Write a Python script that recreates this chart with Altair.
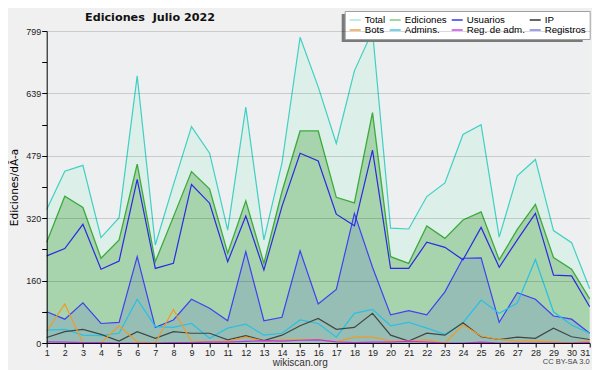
import altair as alt
import pandas as pd

days = list(range(1, 32))

total = [342, 440, 455, 270, 321, 684, 251, 405, 554, 486, 289, 604, 264, 461, 783, 656,
         511, 697, 799, 294, 292, 375, 410, 534, 559, 271, 428, 470, 288, 257, 139]
ediciones = [258, 376, 347, 217, 264, 458, 208, 323, 439, 394, 230, 364, 204, 388, 543, 543,
             373, 359, 590, 221, 204, 300, 268, 315, 336, 213, 291, 355, 219, 189, 113]
usuarios = [223, 242, 304, 189, 210, 419, 191, 204, 406, 358, 208, 325, 187, 350, 486, 466,
            330, 300, 494, 191, 191, 258, 245, 213, 296, 194, 264, 332, 174, 172, 93]
registros = [80, 61, 103, 50, 53, 221, 40, 59, 112, 89, 57, 234, 57, 66, 236, 100,
             137, 332, 194, 72, 83, 72, 131, 217, 218, 53, 129, 112, 69, 61, 25]
admins = [33, 35, 20, 19, 25, 112, 42, 40, 50, 12, 38, 48, 20, 25, 59, 50,
          15, 76, 86, 44, 53, 38, 22, 52, 110, 76, 102, 214, 80, 46, 25]
ip = [14, 29, 35, 22, 5, 29, 12, 29, 25, 25, 8, 19, 6, 20, 44, 63,
      35, 40, 76, 20, 5, 25, 20, 52, 16, 9, 15, 12, 38, 16, 9]
bots = [30, 100, 0, 0, 44, 3, 0, 86, 3, 3, 5, 15, 5, 8, 9, 9,
        3, 15, 15, 5, 5, 8, 0, 46, 18, 9, 5, 5, 3, 0, 5]
reg_adm = [3, 2, 1, 1, 0, 0, 0, 1, 1, 2, 2, 4, 6, 5, 7, 8,
           3, 1, 2, 2, 4, 2, 0, 0, 2, 0, 0, 0, 0, 0, 1]

series_names = ["Total", "Ediciones", "Usuarios", "IP",
                "Bots", "Admins.", "Reg. de adm.", "Registros"]
legend_colors = ["#a8e6dd", "#80cc80", "#3838e6", "#333333",
                 "#f0a040", "#40c8e0", "#cc44ee", "#7f7fe8"]
y_ticks = [round(k * 79.9, 1) for k in range(11)]

title_text = "Ediciones\u00a0 Julio 2022"
credit_text = "CC BY-SA 3.0"

FONT = "Liberation Sans, Arial, sans-serif"
BOLD_FONT = "DejaVu Sans, sans-serif"

series_values = {
    "Total": total, "Ediciones": ediciones, "Usuarios": usuarios, "IP": ip,
    "Bots": bots, "Admins.": admins, "Reg. de adm.": reg_adm, "Registros": registros,
}
rows = []
for name in series_names:
    for d, v in zip(days, series_values[name]):
        rows.append({"day": d, "serie": name, "value": v})
df = pd.DataFrame(rows)

x_enc = alt.X(
    "day:Q",
    scale=alt.Scale(domain=[1, 31], nice=False, zero=False),
    axis=alt.Axis(
        values=days, format="d", title="wikiscan.org", grid=False,
        domainColor="#000000", tickColor="#000000", tickSize=4,
        labelFont=FONT, labelFontSize=9, labelColor="#222222", labelPadding=1,
        labelAlign={"condition": {"test": "datum.value == 31", "value": "right"},
                    "value": "center"},
        titleFont=FONT, titleFontSize=10, titleFontWeight="normal", titleColor="#333333",
        titleX=253, titleY=19, titleBaseline="middle", titleAlign="center",
        labelFlush=False, labelOverlap=False, zindex=1,
    ),
)
y_enc = alt.Y(
    "value:Q",
    scale=alt.Scale(domain=[0, 799], nice=False),
    axis=alt.Axis(
        values=y_ticks,
        labelExpr="round(datum.value / 79.9) % 2 == 0 ? format(datum.value, '.0f') : ''",
        title="Ediciones/dÃ-a", grid=True, gridColor="#000000",
        gridOpacity={"condition": {"test": "round(datum.value / 79.9) % 2 == 0", "value": 0.15},
                     "value": 0},
        domainColor="#000000", tickColor="#000000", tickSize=5,
        labelFont=FONT, labelFontSize=9, labelColor="#222222", labelPadding=1,
        titleFont="DejaVu Sans, sans-serif", titleFontSize=10.5, titleFontWeight="normal",
        titleColor="#000000", titleX=-32, titleY=156, titleAngle=270,
        titleBaseline="middle", titleAlign="center", labelOverlap=False, zindex=1,
    ),
)

base = alt.Chart(df)


def sub(name):
    return base.transform_filter(alt.datum.serie == name)


total_area = sub("Total").mark_area(
    color="#d6efe6", line={"color": "#3fd0c4", "strokeWidth": 1.2}
).encode(x=x_enc, y=y_enc)
edic_area = sub("Ediciones").mark_area(
    color="#90c992", line={"color": "#3caa3c", "strokeWidth": 1.3}
).encode(x=x_enc, y=y_enc)
reg_area = sub("Registros").mark_area(
    color="#3c3cf0", opacity=0.14
).encode(x=x_enc, y=y_enc)
reg_line = sub("Registros").mark_line(color="#4040f0", strokeWidth=1.2).encode(x=x_enc, y=y_enc)
usu_line = sub("Usuarios").mark_line(color="#2a2ae0", strokeWidth=1.2).encode(x=x_enc, y=y_enc)
adm_line = sub("Admins.").mark_line(color="#28c0e4", strokeWidth=1.2).encode(x=x_enc, y=y_enc)
ip_line = sub("IP").mark_line(color="#404646", strokeWidth=1.2).encode(x=x_enc, y=y_enc)
bots_line = sub("Bots").mark_line(color="#f09a28", strokeWidth=1.2).encode(x=x_enc, y=y_enc)
regadm_line = sub("Reg. de adm.").mark_line(color="#c030e8", strokeWidth=1.2).encode(x=x_enc, y=y_enc)

legend_layer = base.mark_line(opacity=0).encode(
    x=x_enc, y=y_enc,
    color=alt.Color(
        "serie:N",
        scale=alt.Scale(domain=series_names, range=legend_colors),
        legend=alt.Legend(
            title=None, orient="none", legendX=298, legendY=-20, columns=4,
            direction="horizontal", symbolType="stroke", symbolSize=121,
            symbolStrokeWidth=1.5, symbolOpacity=1, labelFont=FONT, labelFontSize=9.7,
            labelColor="#000000", fillColor="#ffffff", strokeColor="#a0a0a0",
            padding=4, rowPadding=0, columnPadding=3, clipHeight=10, labelOffset=3,
        ),
    ),
)

shadow = alt.Chart(pd.DataFrame({"k": [0]})).mark_rect(color="#7a7a7a").encode(
    x=alt.value(295), x2=alt.value(536), y=alt.value(-17), y2=alt.value(11)
)

title_layer = alt.Chart(pd.DataFrame({"t": [title_text]})).mark_text(
    align="left", baseline="alphabetic", font=BOLD_FONT, fontSize=11.2,
    fontWeight="bold", color="#111111"
).encode(x=alt.value(38.3), y=alt.value(-10.3), text="t:N")

credit = alt.Chart(pd.DataFrame({"t": [credit_text]})).mark_text(
    align="right", baseline="middle", font=FONT, fontSize=7.5, color="#444444"
).encode(x=alt.value(543), y=alt.value(331), text="t:N")

chart = alt.layer(
    total_area, edic_area, reg_area, reg_line, usu_line, adm_line, ip_line,
    bots_line, regadm_line, legend_layer, shadow, title_layer, credit,
).properties(
    width=543, height=312,
    padding={"left": 38.7, "top": 23, "right": 2.3, "bottom": 27},
    autosize=alt.AutoSizeParams(type="none"),
    background="#f0f0f0",
).configure_view(fill="#eeeff0", stroke=None)

chart.save("out.html", embed_options={"renderer": "svg", "actions": False})
